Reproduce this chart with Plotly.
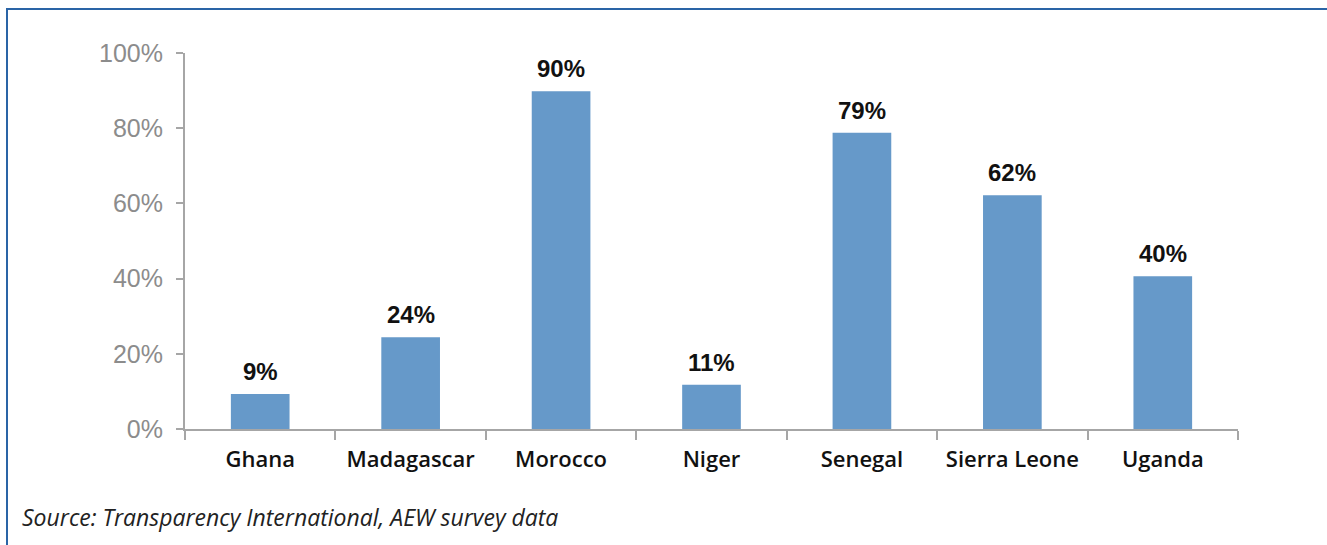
import plotly.graph_objects as go

categories = ["Ghana", "Madagascar", "Morocco", "Niger", "Senegal", "Sierra Leone", "Uganda"]
values = [9.3, 24.4, 89.8, 11.8, 78.8, 62.2, 40.6]
value_labels = ["9%", "24%", "90%", "11%", "79%", "62%", "40%"]
y_ticks = [0, 20, 40, 60, 80, 100]
y_tick_labels = ["0%", "20%", "40%", "60%", "80%", "100%"]
source = "Source: Transparency International, AEW survey data"

fig = go.Figure()
fig.add_trace(go.Bar(
    x=categories, y=values,
    marker=dict(color="#6699C9", line=dict(width=0)),
    width=0.39,
    hoverinfo="skip",
))

for c, v, t in zip(categories, values, value_labels):
    fig.add_annotation(
        x=c, y=v, text="<b>" + t + "</b>", showarrow=False,
        yanchor="bottom", yshift=7,
        font=dict(family="Liberation Sans, Arial", size=24, color="#111111"),
    )

fig.add_annotation(
    xref="paper", yref="paper", x=(20 - 185) / 1053, y=(429 - 517) / 376,
    xanchor="left", yanchor="middle", showarrow=False,
    text="<i>" + source + "</i>",
    font=dict(family="Open Sans", size=23, color="#222222"),
)

# figure frame (blue top/left border)
fig.add_shape(
    type="rect", xref="paper", yref="paper",
    x0=(7 - 185) / 1053, x1=(1345 - 185) / 1053,
    y0=(429 - 570) / 376, y1=(429 - 9) / 376,
    line=dict(color="#2A64A6", width=2),
)

fig.update_layout(
    width=1327, height=545,
    margin=dict(l=185, r=89, t=53, b=116),
    paper_bgcolor="white", plot_bgcolor="white",
    showlegend=False,
    xaxis=dict(
        type="category",
        showline=True, linecolor="#A6A6A6", linewidth=2,
        ticks="outside", tickson="boundaries", ticklen=9, tickcolor="#A6A6A6", tickwidth=2,
        tickfont=dict(family="Open Sans", size=22, color="#111111", weight=600),
        showgrid=False, zeroline=False,
        range=[-0.5, 6.5],
        ticklabelstandoff=10,
    ),
    yaxis=dict(
        range=[0, 100],
        tickvals=y_ticks, ticktext=y_tick_labels,
        showline=True, linecolor="#A6A6A6", linewidth=2,
        ticks="outside", ticklen=7, tickcolor="#A6A6A6", tickwidth=2,
        tickfont=dict(family="Liberation Sans, Arial", size=25, color="#8C8C8C"),
        showgrid=False, zeroline=False,
        ticklabelstandoff=8,
    ),
)

fig.write_html(
    "out.html",
    config={"displayModeBar": False},
    post_script="document.body.style.margin='0';document.body.style.overflow='hidden';",
)
